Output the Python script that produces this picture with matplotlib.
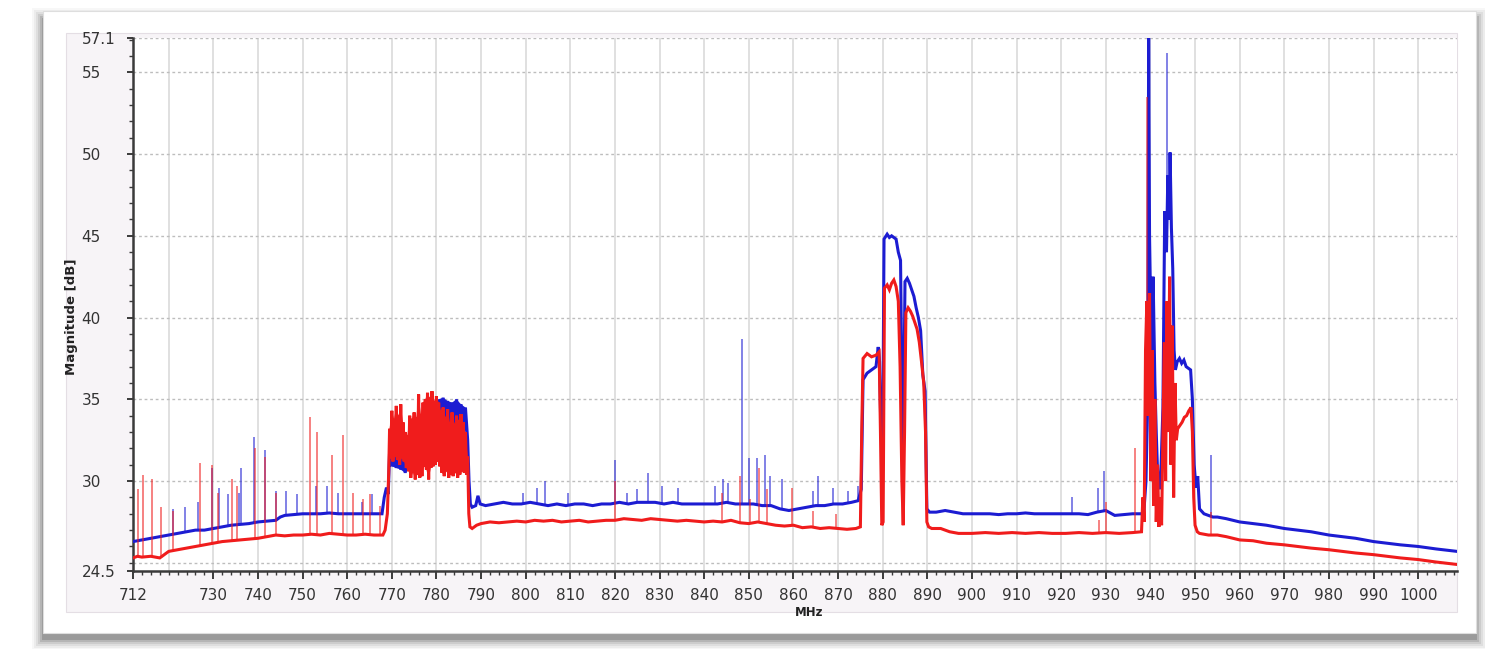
import numpy as np
import matplotlib.pyplot as plt
from matplotlib.patches import Rectangle

# spectrum sweep, two antenna traces (frequency MHz, level dB)
blue_trace = [
    (712, 26.3), (714, 26.4), (716, 26.5), (718, 26.6), (720, 26.7), (722, 26.8),
    (724, 26.9), (726, 27.0), (728, 27.0), (730, 27.1), (732, 27.2), (734, 27.3),
    (736, 27.35), (738, 27.4), (740, 27.5), (742, 27.55), (744, 27.6), (745, 27.8),
    (746, 27.9), (748, 27.95), (750, 28.0), (752, 28.0), (754, 28.0), (756, 28.05),
    (758, 28.0), (760, 28.0), (762, 28.0), (764, 28.0), (766, 28.0), (767.8, 28.0),
    (768.3, 29.0), (768.8, 29.6), (769.2, 29.2),
    (769.5, 31.8), (770, 30.9), (770.5, 32.5), (771, 30.8), (771.5, 32.0), (772, 30.7),
    (772.5, 31.6), (773, 30.5), (773.5, 31.5), (774, 30.9), (774.5, 32.2), (775, 31.0),
    (775.5, 32.5), (776, 31.2), (776.5, 33.0), (777, 31.5), (777.5, 33.5), (778, 31.8),
    (778.5, 34.0), (779, 32.5), (779.5, 34.5), (780, 33.0), (780.5, 35.0), (781, 33.5),
    (781.5, 35.1), (782, 33.5), (782.5, 34.9), (783, 33.3), (783.5, 34.8), (784, 33.4),
    (784.5, 35.0), (785, 33.2), (785.5, 34.7), (786, 33.5), (786.5, 34.5), (787, 32.5),
    (787.3, 30.0), (787.6, 28.6),
    (788, 28.4), (788.8, 28.5), (789.3, 29.1), (789.8, 28.6), (791, 28.5), (793, 28.6),
    (795, 28.7), (797, 28.6), (799, 28.6), (801, 28.7), (803, 28.6), (805, 28.5),
    (807, 28.6), (809, 28.5), (811, 28.6), (813, 28.6), (815, 28.5), (817, 28.6),
    (819, 28.6), (821, 28.7), (823, 28.6), (825, 28.7), (827, 28.7), (829, 28.7),
    (831, 28.6), (833, 28.7), (835, 28.6), (837, 28.6), (839, 28.6), (841, 28.6),
    (843, 28.6), (845, 28.7), (847, 28.6), (849, 28.6), (851, 28.6), (853, 28.5),
    (855, 28.5), (857, 28.3), (859, 28.2), (861, 28.3), (863, 28.4), (865, 28.5),
    (867, 28.5), (869, 28.6), (871, 28.6), (873, 28.7), (874.5, 28.8), (875.2, 29.5),
    (875.6, 36.2), (876.5, 36.6), (877.5, 36.8), (878.5, 37.0), (879.0, 38.2), (879.3, 37.3),
    (879.6, 33.0), (880.0, 31.5), (880.3, 44.8), (881, 45.1), (881.5, 44.9), (882, 45.0),
    (882.5, 44.9), (883, 44.8), (883.5, 44.0), (884, 43.5), (884.3, 36.0), (884.6, 31.5),
    (885.0, 42.2), (885.5, 42.4), (886, 42.1), (886.5, 41.7), (887, 41.3), (887.5, 40.6),
    (888, 40.0), (888.5, 39.2), (889.0, 36.5), (889.5, 35.5), (889.9, 28.3),
    (890.5, 28.1), (892, 28.1), (894, 28.2), (896, 28.1), (898, 28.0), (900, 28.0),
    (902, 28.0), (904, 28.0), (906, 27.95), (908, 28.0), (910, 28.0), (912, 28.05),
    (914, 28.0), (916, 28.0), (918, 28.0), (920, 28.0), (922, 28.0), (924, 28.0),
    (926, 27.95), (928, 28.1), (930, 28.2), (932, 27.9), (934, 27.95), (936, 28.0),
    (938.5, 28.0),
    (939.0, 30.0), (939.4, 35.0), (939.6, 57.1), (939.8, 45.0), (940.2, 38.0), (940.6, 42.5),
    (941.0, 36.0), (941.3, 33.0), (941.6, 30.5), (942.0, 29.5), (942.4, 31.0), (942.8, 34.5),
    (943.2, 46.5), (943.6, 44.0), (943.9, 48.7), (944.2, 46.0), (944.4, 50.1), (944.7, 45.5),
    (945.0, 43.0), (945.3, 38.0), (945.6, 36.8), (946.0, 37.3), (946.5, 37.5), (947, 37.2),
    (947.5, 37.4), (948, 37.0), (948.5, 36.9), (949.0, 36.8), (949.4, 35.0), (949.8, 31.0),
    (950.2, 29.6), (950.6, 30.3), (951.0, 28.3),
    (952, 28.0), (953, 27.9), (954, 27.8), (955, 27.8), (957, 27.7), (960, 27.5),
    (963, 27.4), (966, 27.3), (970, 27.1), (973, 27.0), (976, 26.9), (980, 26.7),
    (983, 26.6), (986, 26.5), (990, 26.3), (993, 26.2), (996, 26.1), (1000, 26.0),
    (1004, 25.85), (1008.7, 25.7),
]

red_trace = [
    (712, 25.3), (713, 25.4), (714, 25.35), (716, 25.4), (718, 25.3), (719, 25.5),
    (720, 25.7), (722, 25.8), (724, 25.9), (726, 26.0), (728, 26.1), (730, 26.2),
    (732, 26.3), (734, 26.35), (736, 26.4), (738, 26.45), (740, 26.5), (742, 26.6),
    (744, 26.7), (746, 26.65), (748, 26.7), (750, 26.7), (752, 26.75), (754, 26.7),
    (756, 26.8), (758, 26.75), (760, 26.7), (762, 26.7), (764, 26.75), (766, 26.7),
    (768, 26.7), (768.5, 27.0), (769.0, 28.0), (769.3, 30.5),
    (769.50, 33.2), (769.75, 31.4), (770.00, 34.3), (770.25, 31.2), (770.50, 33.8),
    (770.75, 31.5), (771.00, 34.6), (771.25, 31.3), (771.50, 34.0), (771.75, 31.0),
    (772.00, 34.7), (772.25, 31.4), (772.50, 33.6), (772.75, 31.2), (773.00, 33.0),
    (773.25, 30.8), (773.50, 32.8), (773.75, 30.6), (774.00, 34.0), (774.25, 30.2),
    (774.50, 33.8), (774.75, 30.5), (775.00, 34.2), (775.25, 30.1), (775.50, 33.9),
    (775.75, 30.4), (776.00, 35.3), (776.25, 30.2), (776.50, 34.1), (776.75, 30.3),
    (777.00, 34.8), (777.25, 30.9), (777.50, 35.0), (777.75, 30.7), (778.00, 35.4),
    (778.25, 30.1), (778.50, 35.1), (778.75, 30.8), (779.00, 35.5), (779.25, 30.9),
    (779.50, 34.9), (779.75, 31.0), (780.00, 35.2), (780.25, 31.2), (780.50, 34.8),
    (780.75, 30.9), (781.00, 34.3), (781.25, 30.5), (781.50, 34.5), (781.75, 30.3),
    (782.00, 33.9), (782.25, 30.6), (782.50, 34.4), (782.75, 30.2), (783.00, 33.6),
    (783.25, 30.4), (783.50, 34.2), (783.75, 30.3), (784.00, 33.5), (784.25, 30.5),
    (784.50, 34.0), (784.75, 30.2), (785.00, 33.7), (785.25, 30.4), (785.50, 34.1),
    (785.75, 30.6), (786.00, 33.6), (786.25, 30.5), (786.50, 33.0), (786.75, 30.4),
    (787.00, 31.5), (787.25, 28.0), (787.50, 27.2),
    (788, 27.1), (789, 27.3), (790, 27.4), (792, 27.5), (794, 27.45), (796, 27.5),
    (798, 27.55), (800, 27.5), (802, 27.6), (804, 27.55), (806, 27.6), (808, 27.5),
    (810, 27.55), (812, 27.6), (814, 27.5), (816, 27.55), (818, 27.6), (820, 27.6),
    (822, 27.7), (824, 27.65), (826, 27.6), (828, 27.7), (830, 27.65), (832, 27.6),
    (834, 27.55), (836, 27.6), (838, 27.55), (840, 27.5), (842, 27.55), (844, 27.5),
    (846, 27.6), (848, 27.45), (850, 27.4), (852, 27.5), (854, 27.4), (856, 27.3),
    (858, 27.25), (860, 27.3), (862, 27.15), (864, 27.2), (866, 27.1), (868, 27.15),
    (870, 27.1), (872, 27.05), (874, 27.1), (875.0, 27.2), (875.3, 33.0), (875.6, 37.5),
    (876.5, 37.8), (877.5, 37.6), (878.5, 37.7), (879.2, 37.9), (879.5, 33.0), (879.8, 27.3),
    (880.1, 27.5), (880.4, 41.8), (881, 42.0), (881.5, 41.7), (882, 42.1), (882.5, 42.3),
    (883, 41.9), (883.5, 41.0), (883.9, 37.0), (884.3, 30.0), (884.6, 27.3), (884.9, 33.0),
    (885.2, 40.3), (885.7, 40.6), (886.2, 40.4), (886.7, 40.1), (887.2, 39.7), (887.7, 39.3),
    (888.2, 38.5), (888.7, 37.3), (889.2, 36.0), (889.6, 33.0), (889.9, 27.5), (890.3, 27.2),
    (891, 27.1), (893, 27.1), (895, 26.9), (897, 26.8), (900, 26.8), (903, 26.85),
    (906, 26.8), (909, 26.85), (912, 26.8), (915, 26.85), (918, 26.8), (921, 26.8),
    (924, 26.85), (927, 26.8), (930, 26.85), (933, 26.8), (936, 26.85), (938.0, 26.9),
    (938.3, 29.0), (938.6, 27.5), (938.9, 38.0), (939.2, 41.0), (939.5, 34.0), (939.8, 41.5),
    (940.1, 30.0), (940.4, 38.0), (940.7, 28.5), (941.0, 35.0), (941.3, 27.5), (941.6, 31.0),
    (941.9, 27.2), (942.2, 29.0), (942.5, 27.3), (942.8, 33.0), (943.1, 38.5), (943.4, 30.0),
    (943.7, 41.0), (944.0, 33.0), (944.3, 42.5), (944.6, 31.0), (944.9, 39.5), (945.2, 29.0),
    (945.5, 36.0), (945.8, 32.5), (946.1, 33.2), (946.6, 33.4), (947.1, 33.6), (947.6, 33.9),
    (948.1, 34.0), (948.6, 34.3), (949.1, 34.5), (949.4, 33.0), (949.7, 29.0), (950.0, 27.3),
    (950.5, 26.9), (951, 26.8), (953, 26.7), (955, 26.7), (957, 26.6), (960, 26.4),
    (963, 26.35), (966, 26.2), (970, 26.1), (973, 26.0), (976, 25.9), (980, 25.8),
    (983, 25.7), (986, 25.6), (990, 25.5), (993, 25.4), (996, 25.3), (1000, 25.2),
    (1004, 25.05), (1008.7, 24.9),
]

# narrow carriers sticking out of the noise floor (frequency, peak dB)
blue_spikes = [
    (721.0, 28.3), (723.6, 28.4), (726.6, 28.7), (729.8, 30.8), (731.3, 29.6), (733.3, 29.2),
    (735.8, 29.3), (736.2, 30.8), (739.1, 32.7), (741.6, 31.9), (744.0, 29.4), (746.3, 29.4),
    (748.7, 29.2), (753.0, 29.7), (755.5, 29.7), (757.9, 29.3), (763.3, 28.7), (765.5, 29.2),
    (799.4, 29.3), (802.5, 29.6), (804.3, 30.0), (809.5, 29.3), (820.0, 31.3), (822.7, 29.3),
    (825.0, 29.5), (827.4, 30.5), (830.5, 29.7), (834.1, 29.6), (842.4, 29.7), (844.2, 30.1),
    (845.3, 29.9), (848.5, 38.7), (850.0, 31.4), (851.8, 31.4), (853.6, 31.6), (854.7, 30.3),
    (857.4, 30.1), (864.4, 29.4), (865.5, 30.3), (868.8, 29.6), (872.2, 29.4), (874.5, 29.7),
    (922.4, 29.0), (928.3, 29.6), (929.6, 30.6), (943.8, 56.2), (953.5, 31.6),
]

red_spikes = [
    (713.1, 29.5), (714.2, 30.4), (716.2, 30.1), (718.3, 28.4), (721.0, 28.2), (727.0, 31.1),
    (729.7, 31.0), (731.0, 29.3), (734.2, 30.1), (735.3, 29.7), (739.3, 32.0), (741.6, 31.5),
    (744.0, 29.3), (751.7, 33.9), (753.2, 33.0), (756.6, 31.6), (759.0, 32.8), (761.3, 29.3),
    (763.5, 28.9), (765.1, 29.2), (767.3, 28.5), (820.0, 30.0), (844.0, 29.3), (848.0, 30.3),
    (850.2, 28.9), (852.3, 30.8), (854.0, 29.5), (859.7, 29.6), (864.4, 28.2), (869.5, 28.0),
    (928.5, 27.6), (930.0, 28.7), (936.5, 32.0), (939.2, 53.5), (953.5, 28.1),
]

# busy block where the sweep swings hard between neighbouring bins
band_lo, band_hi = 769.5, 787.0

x_ticks = [712, 730, 740, 750, 760, 770, 780, 790, 800, 810, 820, 830, 840, 850, 860,
           870, 880, 890, 900, 910, 920, 930, 940, 950, 960, 970, 980, 990, 1000]
y_ticks = [24.5, 30, 35, 40, 45, 50, 55, 57.1]
y_tick_labels = ["24.5", "30", "35", "40", "45", "50", "55", "57.1"]

X_MIN, X_MAX = 712, 1008.7
Y_MIN, Y_MAX = 24.5, 57.1

BLUE = "#1c1cd2"
RED = "#f01c1c"

W, H = 1485, 649


def fx(px):
    return px / W


def fy(py):
    return 1 - py / H


def draw_spikes(ax, spikes, trace, color, z):
    tf, tv = np.array(trace).T
    sf, sv = np.array(spikes).T
    foot = np.interp(sf, tf, tv)
    ax.vlines(sf, foot, sv, color=color, lw=1.1, alpha=0.7, zorder=z)


def fill_band(ax, trace, color, z):
    # the zigzag inside the block: alternating peaks and troughs
    tf, tv = np.array(trace).T
    m = (tf >= band_lo) & (tf <= band_hi)
    bf, bv = tf[m], tv[m]
    hf, hv = bf[0::2], bv[0::2]
    lf, lv = bf[1::2], bv[1::2]
    ax.fill(np.r_[hf, lf[::-1]], np.r_[hv, lv[::-1]], color=color, lw=0, zorder=z)


fig = plt.figure(figsize=(W / 100, H / 100), dpi=100)
fig.patch.set_facecolor("white")

# soft drop shadow under the white card
for grow, a in [(10, 0.03), (8, 0.045), (6, 0.06), (4, 0.08), (2, 0.11), (0, 0.15)]:
    fig.add_artist(Rectangle(
        (fx(42 - grow), fy(640 + grow)), (1477 - 42 + 2 * grow) / W, (640 - 18 + 2 * grow) / H,
        transform=fig.transFigure, facecolor="black", edgecolor="none", alpha=a, zorder=-20))
fig.add_artist(Rectangle(
    (fx(43), fy(633)), (1476 - 43) / W, (633 - 11) / H, transform=fig.transFigure,
    facecolor="white", edgecolor="#dedede", lw=0.8, zorder=-10))
fig.add_artist(Rectangle(
    (fx(66), fy(612)), (1457 - 66) / W, (612 - 33) / H, transform=fig.transFigure,
    facecolor="#f7f4f7", edgecolor="#e4dee4", lw=0.8, zorder=-5))

ax = fig.add_axes([fx(133), fy(571), (1457 - 133) / W, (571 - 38) / H])
ax.set_facecolor("white")
ax.set_xlim(X_MIN, X_MAX)
ax.set_ylim(Y_MIN, Y_MAX)

for f in range(720, 1001, 10):
    ax.axvline(f, color="#dadada", lw=1.2, zorder=0)
for v in [25, 30, 35, 40, 45, 50, 55, 57.1]:
    ax.axhline(v, color="#bdbdbd", lw=1.0, ls=(0, (2, 2)), zorder=0)

bf, bv = np.array(blue_trace).T
rf, rv = np.array(red_trace).T
draw_spikes(ax, blue_spikes, blue_trace, BLUE, 2)
fill_band(ax, blue_trace, BLUE, 3)
ax.plot(bf, bv, color=BLUE, lw=2.2, solid_joinstyle="miter", zorder=3)
draw_spikes(ax, red_spikes, red_trace, RED, 4)
fill_band(ax, red_trace, RED, 5)
ax.plot(rf, rv, color=RED, lw=2.2, solid_joinstyle="miter", zorder=5)

for side in ["top", "right"]:
    ax.spines[side].set_visible(False)
for side in ["left", "bottom"]:
    ax.spines[side].set_color("#3a3a3a")
    ax.spines[side].set_linewidth(1.8)

ax.set_xticks(x_ticks)
ax.set_xticks(np.arange(712, 1009, 2), minor=True)
ax.set_yticks(y_ticks)
ax.set_yticklabels(y_tick_labels)
ax.set_yticks(np.arange(25, 58, 1), minor=True)
ax.tick_params(axis="both", which="both", direction="out", colors="#3a3a3a",
               labelcolor="#333333", labelsize=11)
ax.tick_params(axis="x", which="major", length=6, width=1.4, pad=6)
ax.tick_params(axis="x", which="minor", length=3, width=1.0)
ax.tick_params(axis="y", which="major", length=4, width=1.4, pad=33)
ax.tick_params(axis="y", which="minor", length=3, width=1.0)
for lbl in ax.get_yticklabels():
    lbl.set_horizontalalignment("left")

fig.text(fx(72), fy(317), "Magnitude [dB]", rotation=90, fontsize=9.5,
         fontweight="bold", color="#222222", ha="center", va="center")
fig.text(fx(809), fy(612), "MHz", fontsize=8.5, fontweight="bold",
         color="#222222", ha="center", va="center")

fig.savefig("out.png", dpi=100)
